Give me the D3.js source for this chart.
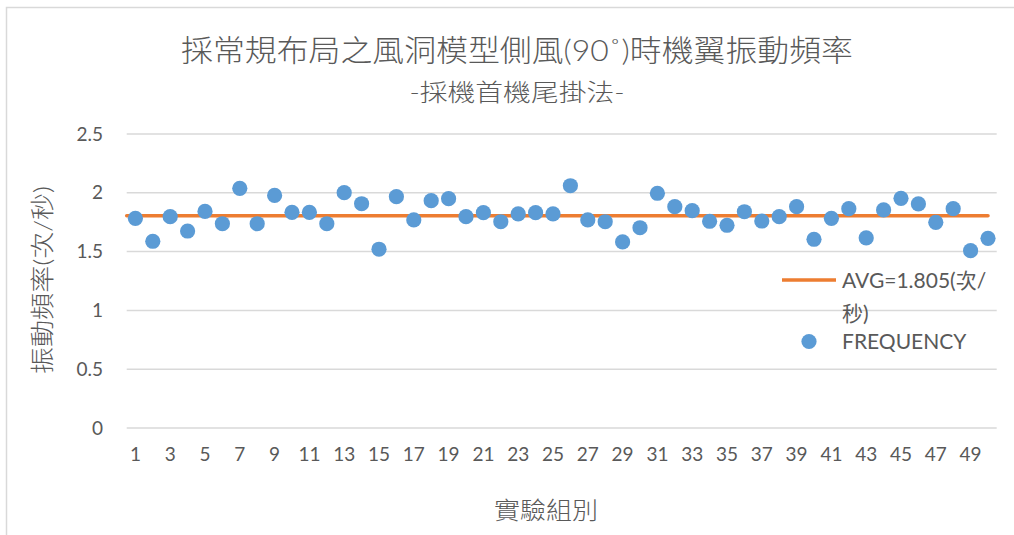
<!DOCTYPE html>
<html>
<head>
<meta charset="utf-8">
<script src="https://cdn.jsdelivr.net/npm/d3@7"></script>
<style>
  body { margin: 0; background: #fff; }
  svg { display: block; }
  text { font-family: Lato, "Noto Sans CJK TC", sans-serif; fill: #595959; }
</style>
</head>
<body>
<svg id="chart" width="1014" height="535"></svg>
<script>
// Experiment groups 1..50
const groups = [1,2,3,4,5,6,7,8,9,10,11,12,13,14,15,16,17,18,19,20,
                21,22,23,24,25,26,27,28,29,30,31,32,33,34,35,36,37,38,39,40,
                41,42,43,44,45,46,47,48,49,50];
// Wing vibration frequency per group (times / second)
const frequency = [1.783,1.588,1.797,1.675,1.842,1.737,2.038,1.737,1.978,1.834,
                   1.834,1.737,2.001,1.907,1.520,1.967,1.769,1.933,1.950,1.797,
                   1.831,1.754,1.820,1.831,1.820,2.060,1.769,1.754,1.582,1.703,
                   1.996,1.882,1.848,1.758,1.724,1.839,1.760,1.797,1.882,1.605,
                   1.783,1.865,1.616,1.854,1.953,1.905,1.749,1.865,1.508,1.613];
const avgValue = 1.805;
const yTicks = [0, 0.5, 1, 1.5, 2, 2.5];
const xTickLabels = [1,3,5,7,9,11,13,15,17,19,21,23,25,27,29,31,33,35,37,39,41,43,45,47,49];

const titleText = "採常規布局之風洞模型側風(90˚)時機翼振動頻率";
const subtitleText = "-採機首機尾掛法-";
const yTitle = "振動頻率(次/秒)";
const xTitle = "實驗組別";

const svg = d3.select("#chart");
const grid = "#D9D9D9", textCol = "#595959";
const blue = "#5B9BD5", orange = "#ED7D31";

// chart frame
svg.append("rect").attr("x", 6.5).attr("y", 7.5).attr("width", 1100).attr("height", 600)
  .attr("fill", "none").attr("stroke", grid).attr("stroke-width", 1.5);

const x = d3.scaleBand().domain(groups).range([126.7, 996.7]);
const y = d3.scaleLinear().domain([0, 2.5]).range([428, 134]);

// horizontal gridlines
svg.append("g").selectAll("line").data(yTicks).join("line")
  .attr("x1", x.range()[0]).attr("x2", x.range()[1])
  .attr("y1", d => y(d)).attr("y2", d => y(d))
  .attr("stroke", grid).attr("stroke-width", 1.5);

// y axis labels
const yAxis = svg.append("g").attr("transform", "translate(103,0)")
  .call(d3.axisLeft(y).tickValues(yTicks).tickSize(0).tickPadding(0).tickFormat(d => String(d)));
yAxis.select(".domain").remove();
yAxis.selectAll("text").attr("font-size", 19).attr("fill", textCol)
  .style("font-family", "Lato, sans-serif");

// x axis labels (every other group)
const xAxis = svg.append("g").attr("transform", `translate(0,${y(0)})`)
  .call(d3.axisBottom(x).tickValues(xTickLabels).tickSize(0).tickPadding(20));
xAxis.select(".domain").remove();
xAxis.selectAll("text").attr("font-size", 19).attr("fill", textCol)
  .style("font-family", "Lato, sans-serif");

// average line
svg.append("line")
  .attr("x1", x.range()[0]).attr("x2", x(groups[groups.length - 1]) + x.bandwidth() / 2)
  .attr("y1", y(avgValue)).attr("y2", y(avgValue))
  .attr("stroke", orange).attr("stroke-width", 3.5).attr("stroke-linecap", "round");

// frequency markers
svg.append("g").selectAll("circle").data(frequency).join("circle")
  .attr("cx", (d, i) => x(groups[i]) + x.bandwidth() / 2)
  .attr("cy", d => y(d))
  .attr("r", 7.6)
  .attr("fill", blue);

// titles
svg.append("text").attr("x", 517).attr("y", 61).attr("text-anchor", "middle")
  .attr("font-size", 30).attr("font-weight", 300)
  .attr("textLength", 672).attr("lengthAdjust", "spacingAndGlyphs").text(titleText);
svg.append("text").attr("x", 517).attr("y", 101).attr("text-anchor", "middle")
  .attr("font-size", 24).attr("font-weight", 300)
  .attr("textLength", 215).attr("lengthAdjust", "spacingAndGlyphs").text(subtitleText);

// axis titles
svg.append("text").attr("transform", "translate(51,280) rotate(-90)").attr("text-anchor", "middle")
  .attr("font-size", 24).attr("font-weight", 300)
  .attr("textLength", 188).attr("lengthAdjust", "spacingAndGlyphs").text(yTitle);
svg.append("text").attr("x", 546).attr("y", 519).attr("text-anchor", "middle")
  .attr("font-size", 24).attr("font-weight", 300)
  .attr("textLength", 104).attr("lengthAdjust", "spacingAndGlyphs").text(xTitle);

// legend
const lg = svg.append("g");
lg.append("line").attr("x1", 782).attr("x2", 836).attr("y1", 280).attr("y2", 280)
  .attr("stroke", orange).attr("stroke-width", 3.5);
lg.append("text").attr("x", 842).attr("y", 288).attr("font-size", 21)
  .text(`AVG=${avgValue}(次/`);
lg.append("text").attr("x", 842).attr("y", 321).attr("font-size", 21).text("秒)");
lg.append("circle").attr("cx", 809).attr("cy", 341.5).attr("r", 7.6).attr("fill", blue);
lg.append("text").attr("x", 842).attr("y", 349).attr("font-size", 21).text("FREQUENCY");
</script>
</body>
</html>
